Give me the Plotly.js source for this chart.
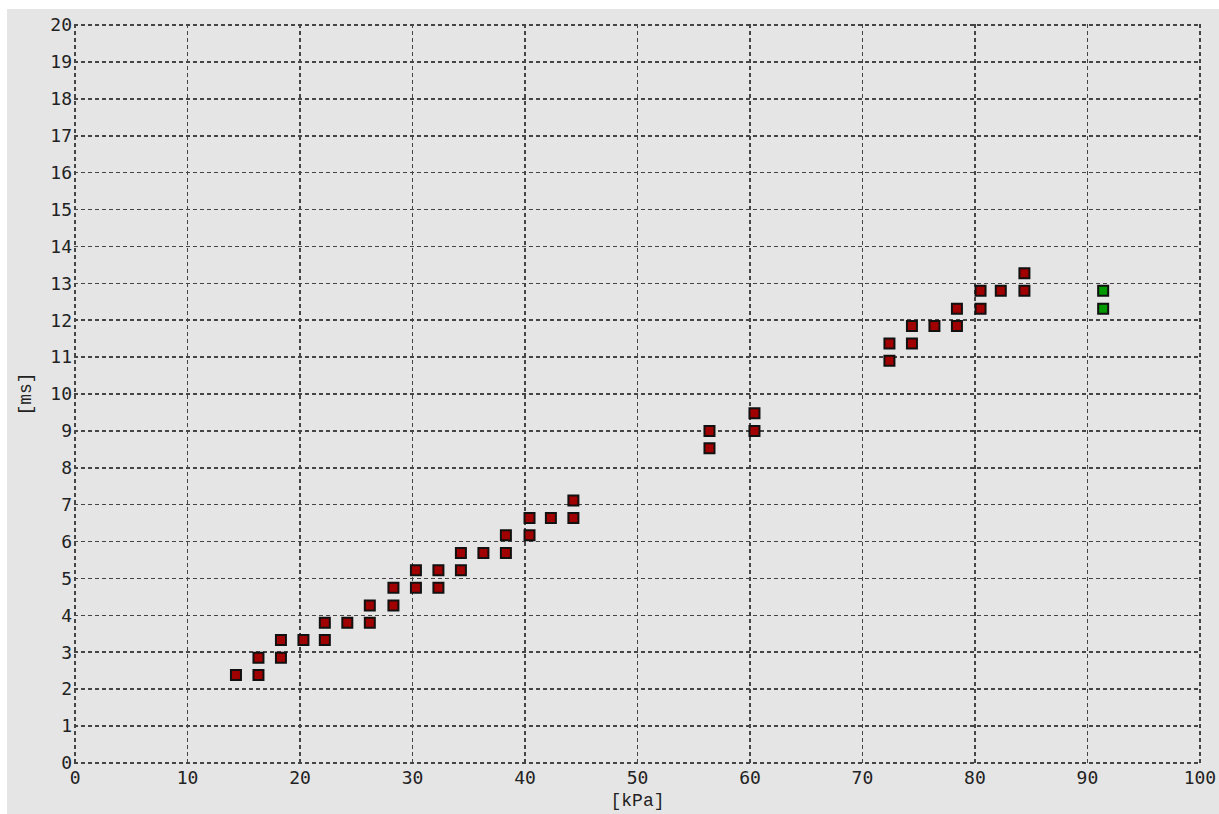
<!DOCTYPE html>
<html>
<head>
<meta charset="utf-8">
<script src="https://cdn.plot.ly/plotly-3.0.1.min.js"></script>
<style>
  html, body { margin: 0; padding: 0; background: #ffffff; width: 1219px; height: 814px; overflow: hidden; }
  #chart { position: absolute; left: 7px; top: 9px; width: 1212px; height: 805px; }
</style>
</head>
<body>
<div id="chart"></div>
<script>
// Red series (kPa vs ms)
const redX = [14.3, 16.3, 16.3, 18.3, 18.3, 20.3, 22.2, 22.2, 24.2, 26.2, 26.2, 28.3, 28.3, 30.3, 30.3,
              32.3, 32.3, 34.3, 34.3, 36.3, 38.3, 38.3, 40.4, 40.4, 42.3, 44.3, 44.3,
              56.4, 56.4, 60.4, 60.4,
              72.4, 72.4, 74.4, 74.4, 76.4, 78.4, 78.4, 80.5, 80.5, 82.3, 84.4, 84.4];
const redY = [2.38, 2.38, 2.85, 2.85, 3.33, 3.33, 3.33, 3.80, 3.80, 3.80, 4.27, 4.27, 4.75, 4.75, 5.22,
              4.75, 5.22, 5.22, 5.69, 5.69, 5.69, 6.17, 6.17, 6.64, 6.64, 6.64, 7.11,
              8.53, 9.00, 9.00, 9.48,
              10.90, 11.37, 11.37, 11.84, 11.84, 11.84, 12.31, 12.31, 12.80, 12.80, 12.80, 13.27];
// Green series
const greenX = [91.4, 91.4];
const greenY = [12.31, 12.80];

const xTicks = [0, 10, 20, 30, 40, 50, 60, 70, 80, 90, 100];
const yTicks = [0, 1, 2, 3, 4, 5, 6, 7, 8, 9, 10, 11, 12, 13, 14, 15, 16, 17, 18, 19, 20];

const bg = '#e5e5e5';
const gridColor = '#454545';
const tickFont = {family: 'DejaVu Sans Mono', size: 18, color: '#222222'};

const traces = [
  {x: redX, y: redY, type: 'scatter', mode: 'markers', name: 'red',
   marker: {symbol: 'square', size: 10, color: '#a00000', line: {color: '#111111', width: 2}}},
  {x: greenX, y: greenY, type: 'scatter', mode: 'markers', name: 'green',
   marker: {symbol: 'square', size: 10, color: '#009a00', line: {color: '#111111', width: 2}}}
];

const layout = {
  width: 1212, height: 805,
  paper_bgcolor: bg, plot_bgcolor: bg,
  showlegend: false,
  margin: {l: 67, r: 18, t: 15, b: 50},
  xaxis: {
    range: [-0.1, 100.1], tickvals: xTicks, ticktext: xTicks.map(String),
    showgrid: true, gridcolor: gridColor, gridwidth: 1.5, griddash: '4px,3px',
    zeroline: false, showline: false, ticks: '', ticklabelstandoff: 1,
    tickfont: tickFont,
    title: {text: '[kPa]', font: {family: 'Liberation Mono', size: 18, color: '#222222'}, standoff: 6}
  },
  yaxis: {
    range: [-0.03, 20.03], tickvals: yTicks, ticktext: yTicks.map(String),
    showgrid: true, gridcolor: gridColor, gridwidth: 1.5, griddash: '4px,3px',
    zeroline: false, showline: false, ticks: '', ticklabelstandoff: 1,
    tickfont: tickFont,
    title: {text: '[ms]', font: {family: 'Liberation Mono', size: 18, color: '#222222'}, standoff: 14}
  }
};

Plotly.newPlot('chart', traces, layout, {displayModeBar: false, staticPlot: true});
</script>
</body>
</html>
